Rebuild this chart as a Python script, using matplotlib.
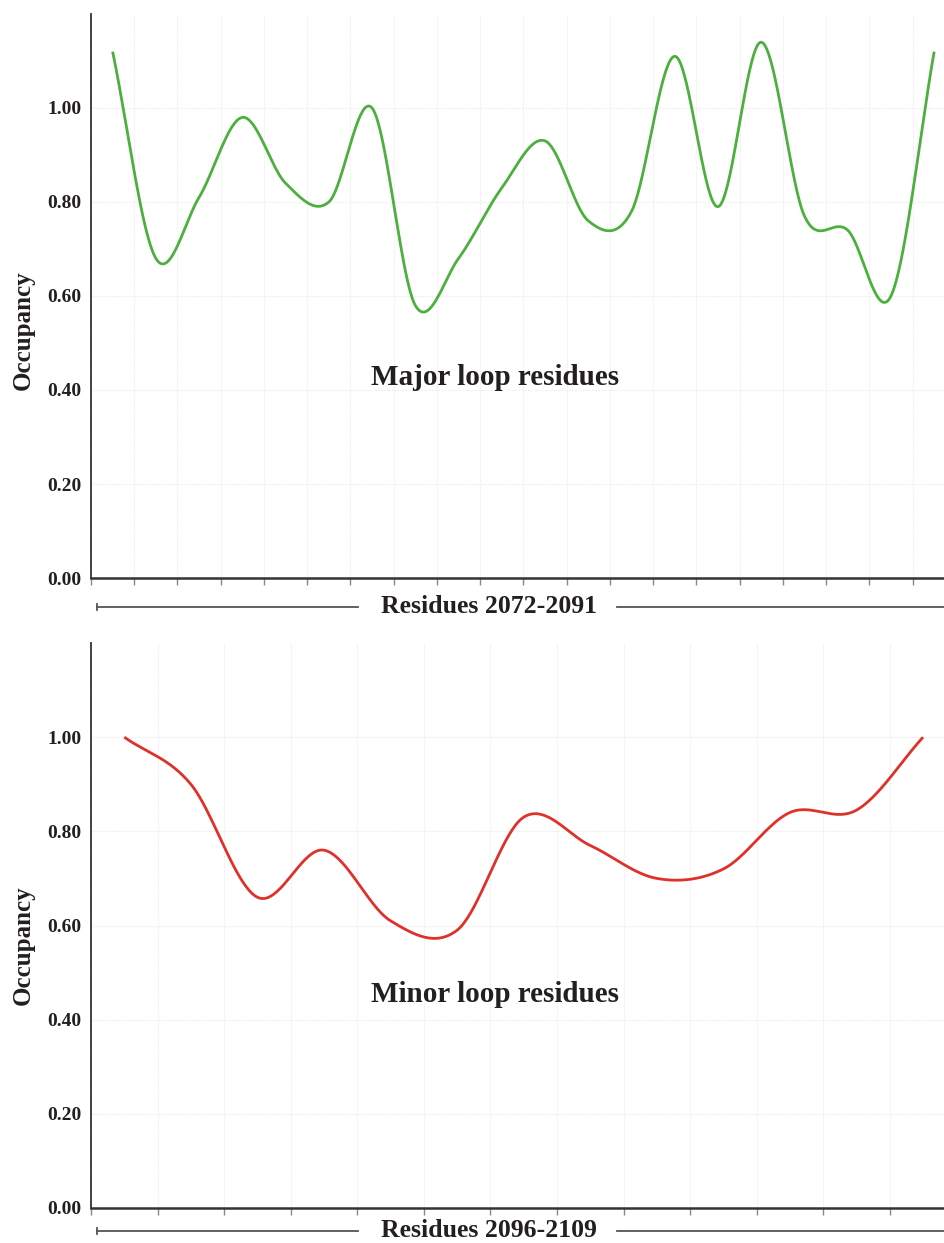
import numpy as np
import matplotlib
matplotlib.use('Agg')
import matplotlib.pyplot as plt

plt.rcParams['font.family'] = ['Liberation Serif', 'DejaVu Serif']
plt.rcParams['font.weight'] = 'bold'

# occupancy per residue
major_residues = list(range(2072, 2092))
major_occ = [1.12, 0.68, 0.81, 0.98, 0.84, 0.80, 1.00, 0.58, 0.68, 0.83,
             0.93, 0.76, 0.78, 1.11, 0.79, 1.14, 0.77, 0.74, 0.60, 1.12]

minor_residues = list(range(2096, 2109))
minor_occ = [1.00, 0.90, 0.66, 0.76, 0.61, 0.59, 0.83, 0.77, 0.70, 0.72,
             0.84, 0.845, 1.00]

y_ticks = [0.0, 0.2, 0.4, 0.6, 0.8, 1.0]
text_col = '#231f20'


def smooth(y, n=40):
    # Catmull-Rom spline through the points (x = 0, 1, 2, ...)
    y = np.asarray(y, dtype=float)
    p = np.concatenate([[2 * y[0] - y[1]], y, [2 * y[-1] - y[-2]]])
    t = np.linspace(0, 1, n, endpoint=False)
    h00 = 2 * t**3 - 3 * t**2 + 1
    h10 = t**3 - 2 * t**2 + t
    h01 = -2 * t**3 + 3 * t**2
    h11 = t**3 - t**2
    xs, ys = [], []
    for i in range(len(y) - 1):
        p0, p1, p2, p3 = p[i:i + 4]
        m1 = (p2 - p0) / 2
        m2 = (p3 - p1) / 2
        xs.append(i + t)
        ys.append(h00 * p1 + h10 * m1 + h01 * p2 + h11 * m2)
    xs.append([len(y) - 1])
    ys.append([y[-1]])
    return np.concatenate(xs), np.concatenate(ys)


def panel(ax, occ, color, title, xlabel, xmax, title_y, lab_y, occ_y):
    n = len(occ)
    xs, ys = smooth(occ)
    ax.plot(xs, ys, color=color, lw=2.0, solid_capstyle='butt', zorder=3)

    ax.set_xticks(np.arange(-0.5, n, 1.0))
    ax.set_xticklabels([])
    ax.set_yticks(y_ticks)
    ax.set_yticklabels([f'{v:.2f}' for v in y_ticks])
    ax.set_xlim(-0.5, xmax)
    ax.set_ylim(0, 1.2)
    ax.tick_params(axis='y', length=0, pad=7, labelsize=14, labelcolor=text_col)
    ax.tick_params(axis='x', length=5, width=1, color='#888888')
    ax.grid(True, color='#f0f0f0', lw=0.8, ls=(0, (2, 1)))
    ax.set_axisbelow(True)

    for s in ['top', 'right']:
        ax.spines[s].set_visible(False)
    ax.spines['left'].set_color('#333333')
    ax.spines['left'].set_linewidth(1.3)
    ax.spines['bottom'].set_color('#333333')
    ax.spines['bottom'].set_linewidth(1.8)

    ax.text(0.473, title_y, title, transform=ax.transAxes, ha='center',
            va='center', fontsize=21, fontweight='bold', color=text_col)
    ax.text(-0.0796, occ_y, 'Occupancy', transform=ax.transAxes, rotation=90,
            ha='center', va='center', fontsize=18, fontweight='bold', color=text_col)

    # axis label with a rule on each side
    ax.text(0.466, lab_y, xlabel, transform=ax.transAxes, ha='center',
            va='center', fontsize=18.5, fontweight='bold', color=text_col)
    ax.plot([0.007, 0.3126], [lab_y, lab_y], transform=ax.transAxes,
            color='#555555', lw=1.3, clip_on=False)
    ax.plot([0.007, 0.007], [lab_y - 0.006, lab_y + 0.006], transform=ax.transAxes,
            color='#555555', lw=1.3, clip_on=False)
    ax.plot([0.616, 1.02], [lab_y, lab_y], transform=ax.transAxes,
            color='#555555', lw=1.3, clip_on=False)


fig = plt.figure(figsize=(9.45, 12.43), dpi=100)
ax1 = fig.add_axes([91 / 945, 1 - 578 / 1243, 854 / 945, 564 / 1243])
ax2 = fig.add_axes([91 / 945, 1 - 1208 / 1243, 854 / 945, 565 / 1243])

panel(ax1, major_occ, '#4caf3e', 'Major loop residues', 'Residues 2072-2091',
      19.25, 0.355, -0.0514, 0.44)
panel(ax2, minor_occ, '#e0302a', 'Minor loop residues', 'Residues 2096-2109',
      12.33, 0.377, -0.0407, 0.465)

fig.savefig('out.png', dpi=100)
